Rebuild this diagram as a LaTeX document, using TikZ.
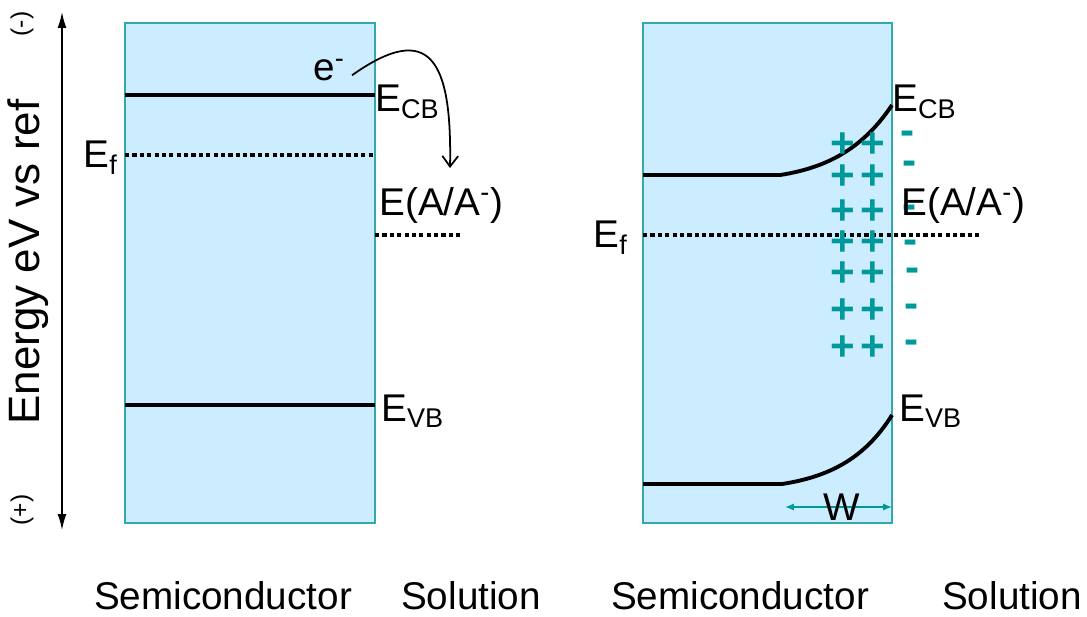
\documentclass[tikz,border=0pt]{standalone}
\usepackage{fontspec}
\setmainfont{Liberation Sans}
\usepackage{xcolor}
\usepackage{tikz}
\usetikzlibrary{arrows.meta}
\definecolor{bandfill}{RGB}{204,236,255}
\definecolor{bandedge}{RGB}{51,170,170}
\definecolor{chargecol}{RGB}{0,153,153}
\def\bandtop{23}
\def\bandbot{523}
\tikzset{
  semibox/.style={draw=bandedge, fill=bandfill, line width=0.9pt},
  bandline/.style={line width=2.2pt},
  fermiline/.style={line width=2.2pt, dash pattern=on 2.4pt off 1.8pt},
  lbl/.style={font=\fontsize{22}{26}\selectfont, inner sep=0pt},
  charge/.style={text=chargecol, font=\fontsize{24}{28}\selectfont\bfseries, inner sep=0pt},
}

\begin{document}
\begin{tikzpicture}[x=0.02cm, y=-0.02cm]
	\useasboundingbox (0,0) rectangle (1087,616);
	% energy axis
	\coordinate (axtop) at (62,12);
	\coordinate (axbot) at (62,530);
	\draw[{Latex[length=9pt,width=5pt]}-{Latex[length=9pt,width=5pt]}, line width=0.8pt] (axtop) -- (axbot);
	\node[lbl, rotate=90, font=\fontsize{25}{30}\selectfont] (axis) at (28,262) {Energy eV vs ref};
	\node[lbl, rotate=90, font=\fontsize{14}{16}\selectfont] (neg) at (22,24) {(-)};
	\node[lbl, rotate=90, font=\fontsize{14}{16}\selectfont] (pos) at (22,510) {(+)};

	% before contact
	\draw[semibox] (125,\bandtop) rectangle (375,\bandbot);
	\coordinate (cbA) at (125,95);  \coordinate (cbB) at (375,95);
	\coordinate (efA) at (125,155); \coordinate (efB) at (375,155);
	\coordinate (rdA) at (375,235); \coordinate (rdB) at (463,235);
	\coordinate (vbA) at (125,405); \coordinate (vbB) at (375,405);
	\draw[bandline] (cbA) -- (cbB);
	\draw[bandline] (vbA) -- (vbB);
	\draw[fermiline] (efA) -- (efB);
	\draw[fermiline] (rdA) -- (rdB);
	\node[lbl, anchor=east] (efL) at (118,158) {E\textsubscript{f}};
	\node[lbl, anchor=west] (cbL) at (375,102) {E\textsubscript{CB}};
	\node[lbl, anchor=west] (vbL) at (381,411) {E\textsubscript{VB}};
	\node[lbl, anchor=west] (rdL) at (379,205) {E(A/A\textsuperscript{-})};
	\node[lbl, anchor=east] (eminus) at (345,70) {e\textsuperscript{-}};
	\coordinate (etip) at (450,168);
	\draw[-{Straight Barb[length=6pt,width=9pt]}, line width=1pt] ([xshift=4pt,yshift=-3pt]eminus.east) .. controls (430,20) and (452,60) .. (etip);

	% after contact
	\draw[semibox] (643,\bandtop) rectangle (892,\bandbot);
	\coordinate (cbC) at (643,175); \coordinate (cbD) at (780,175); \coordinate (cbE) at (892,105);
	\coordinate (vbC) at (643,484); \coordinate (vbD) at (782,484); \coordinate (vbE) at (892,415);
	\coordinate (efC) at (643,235); \coordinate (efD) at (982,235);
	\draw[bandline] (cbC) -- (cbD) .. controls (825,168) and (862,150) .. (cbE);
	\draw[bandline] (vbC) -- (vbD) .. controls (827,477) and (864,460) .. (vbE);
	\draw[fermiline] (efC) -- (efD);
	\foreach \y in {145,177,212,243,274,311,348}{
		\node[charge] (pa-\y) at (843,\y) {+};
		\node[charge] (pb-\y) at (873,\y) {+};
	}
	\foreach \x/\y in {908/138,910/168,910/212,911/247,913/275,912/311,912/347}
		\node[charge] (mi-\y) at (\x,\y) {-};
	\node[lbl, anchor=east] (efR) at (628,238) {E\textsubscript{f}};
	\node[lbl, anchor=west] (cbR) at (892,102) {E\textsubscript{CB}};
	\node[lbl, anchor=west] (vbR) at (899,411) {E\textsubscript{VB}};
	\node[lbl, anchor=west] (rdR) at (901,205) {E(A/A\textsuperscript{-})};
	\coordinate (wA) at (785,507);
	\coordinate (wB) at (892,507);
	\draw[{Latex[length=5pt,width=4pt]}-{Latex[length=5pt,width=4pt]}, draw=chargecol, fill=chargecol, line width=0.8pt] (wA) -- (wB);
	\node[lbl] (wlbl) at (842,507) {W};

	% phases
	\node[lbl] (semiL) at (223,596) {Semiconductor};
	\node[lbl] (solL) at (471,596) {Solution};
	\node[lbl] (semiR) at (740,596) {Semiconductor};
	\node[lbl] (solR) at (1012,596) {Solution};
\end{tikzpicture}
\end{document}
